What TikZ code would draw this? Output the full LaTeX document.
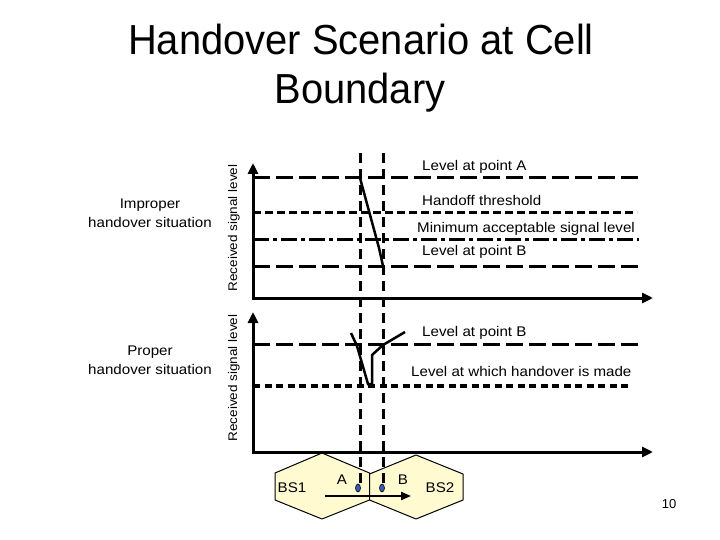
\documentclass[tikz,border=0pt]{standalone}
\usepackage{fontspec}
\setmainfont{Liberation Sans}
\usetikzlibrary{arrows.meta,shapes.geometric}
\newcommand{\hstr}[1]{\scalebox{1.08}[1]{#1}}
\definecolor{cellfill}{RGB}{255,250,208}
\definecolor{dotblue}{RGB}{60,90,180}
\begin{document}
\begin{tikzpicture}[x=1pt,y=-1pt,
  axisline/.style={line width=3pt,-{Triangle[length=11pt,width=10pt]}},
  longdash/.style={line width=3pt,dash pattern=on 17pt off 6pt},
  shortdash/.style={line width=3pt,dash pattern=on 8pt off 4pt},
  dashdotline/.style={line width=3pt,dash pattern=on 16pt off 4pt on 4pt off 4pt},
  squaredash/.style={line width=3.5pt,dash pattern=on 7pt off 4.5pt},
  vdash/.style={line width=3pt,dash pattern=on 10pt off 6pt},
  signal/.style={line width=2.5pt,line join=miter},
  lbl/.style={font=\fontsize{14}{16}\selectfont,inner sep=0pt},
  ylbl/.style={font=\fontsize{12.5}{14}\selectfont,inner sep=0pt,rotate=90},
  titletxt/.style={font=\fontsize{42}{48}\selectfont,inner sep=0pt,anchor=base},
  cell/.style={draw=black,line width=1pt,fill=cellfill,line join=round},
  dotnode/.style={ellipse,draw=black,line width=0.6pt,fill=dotblue,minimum width=5pt,minimum height=8pt,inner sep=0pt},
  move/.style={line width=2pt,-{Triangle[length=10pt,width=8pt]}}
]
\fill[white] (0,0) rectangle (720,540);
\path[use as bounding box] (0,0) rectangle (720,540);

% title
\node[titletxt] (t1) at (361,55) {\scalebox{0.95}[1]{Handover Scenario at Cell}};
\node[titletxt] (t2) at (360,104) {\scalebox{0.95}[1]{Boundary}};

% left labels
\node[lbl,anchor=base] (imp1) at (150,209) {\hstr{Improper}};
\node[lbl,anchor=base] (imp2) at (150,227) {\hstr{handover situation}};
\node[lbl,anchor=base] (pro1) at (150,355) {\hstr{Proper}};
\node[lbl,anchor=base] (pro2) at (150,374) {\hstr{handover situation}};

% y-axis labels
\node[ylbl] (ya) at (234,228) {\hstr{Received signal level}};
\node[ylbl] (yb) at (234,378) {\hstr{Received signal level}};

% cells
\draw[cell] (322,453) -- (369.5,473) -- (369.5,500) -- (322,519) -- (275,500) -- (275,473) -- cycle;
\draw[cell] (416,455) -- (463,474) -- (463,500) -- (416,519) -- (369.5,500) -- (369.5,474) -- cycle;
\node[lbl] (bs1) at (292,488) {\hstr{BS1}};
\node[lbl] (bs2) at (440,488) {\hstr{BS2}};
\node[lbl] (la) at (342,480) {\hstr{A}};
\node[lbl] (lb) at (403,480) {\hstr{B}};

% coordinates
\coordinate (o1) at (253,298);
\coordinate (y1) at (253,163);
\coordinate (x1) at (653,298);
\coordinate (o2) at (253,452);
\coordinate (y2) at (253,312);
\coordinate (x2) at (653,452);

% horizontal level lines (top)
\coordinate (aS) at (253,178); \coordinate (aE) at (639,178);
\coordinate (hS) at (253,213); \coordinate (hE) at (637,213);
\coordinate (mS) at (253,239); \coordinate (mE) at (639,239);
\coordinate (bS) at (253,266); \coordinate (bE) at (639,266);
\draw[longdash] (aS) -- (aE);
\draw[shortdash] (hS) -- (hE);
\draw[dashdotline] (mS) -- (mE);
\draw[longdash] (bS) -- (bE);
% horizontal level lines (bottom)
\coordinate (b2S) at (253,344); \coordinate (b2E) at (639,344);
\coordinate (h2S) at (253,386); \coordinate (h2E) at (629,386);
\draw[longdash] (b2S) -- (b2E);
\draw[squaredash] (h2S) -- (h2E);

% axes
\draw[axisline] (o1) -- (y1);
\draw[axisline] ([xshift=-1.5pt]o1) -- (x1);
\draw[axisline] (o2) -- (y2);
\draw[axisline] ([xshift=-1.5pt]o2) -- (x2);

% vertical dashed boundaries
\coordinate (vAt) at (360,153); \coordinate (vAb) at (360,484);
\coordinate (vBt) at (383,153); \coordinate (vBb) at (383,484);
\draw[vdash] (vAt) -- (vAb);
\draw[vdash] (vBt) -- (vBb);

% dots
\node[dotnode] (dA) at (358,488) {};
\node[dotnode] (dB) at (382,488) {};

% movement arrow
\coordinate (mvS) at (325,496);
\coordinate (mvE) at (411,496);
\draw[move] (mvS) -- (mvE);

% signal curves
\draw[signal] (360,178) -- (379,248) -- (383,266);
\draw[signal] (351,333) -- (357,346) -- (368,384) -- (372,384) -- (372,355) -- (383,345) -- (405,332);

% labels of levels
\node[lbl,anchor=base west] (tA) at (422,171) {\hstr{Level at point A}};
\node[lbl,anchor=base west] (tH) at (422,206) {\hstr{Handoff threshold}};
\node[lbl,anchor=base west] (tM) at (417,232.5) {\hstr{Minimum acceptable signal level}};
\node[lbl,anchor=base west] (tB) at (422,255) {\hstr{Level at point B}};
\node[lbl,anchor=base west] (tB2) at (422,336) {\hstr{Level at point B}};
\node[lbl,anchor=base west] (tM2) at (411,376) {\hstr{Level at which handover is made}};

% page number
\node[font=\fontsize{13}{15}\selectfont,inner sep=0pt,anchor=base] (pg) at (669,508) {10};
\end{tikzpicture}
\end{document}
